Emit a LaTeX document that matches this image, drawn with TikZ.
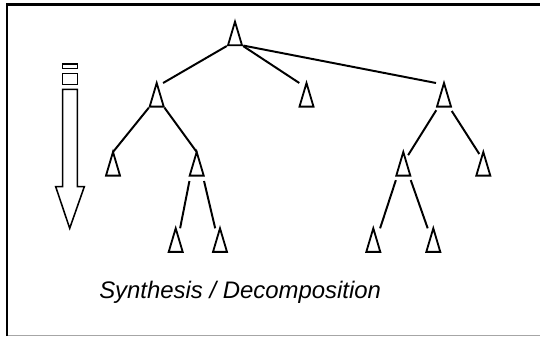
\documentclass[tikz,border=0pt]{standalone}
\usepackage{fontspec}
\setsansfont{Liberation Sans}
\usepackage{tikz}
\usetikzlibrary{shapes.geometric}

\begin{document}
\begin{tikzpicture}[x=0.025cm, y=-0.025cm,
    tri/.style={isosceles triangle, isosceles triangle stretches, shape border rotate=90,
      draw, line width=1.3pt, inner sep=0pt, outer sep=0pt,
      minimum width=0.35cm, minimum height=0.59cm, anchor=apex},
    branch/.style={line width=1.4pt, shorten <=1pt},
    block/.style={line width=1.1pt}]
  \useasboundingbox (0,0) rectangle (540,336);
  % frame
  \draw[line width=1.5pt] (7,336) -- (7,4.5) -- (540,4.5);
  \draw[black!35, line width=0.7pt] (7.5,335) -- (540,335);
  % downward arrow
  \draw[block] (62.3,64) rectangle (77.3,68.7);
  \draw[block] (62.3,73.7) rectangle (77.3,84.3);
  \draw[block, line join=miter] (62.7,89.3) -- (62.7,186.7) -- (55.7,186.7) -- (69.7,228.3)
    -- (84.3,186.7) -- (77.3,186.7) -- (77.3,89.3) -- cycle;
  % tree
  \node[tri] (root) at (235,21.7) {};
  \node[tri] (lft) at (156.7,83) {};
  \node[tri] (mid) at (306.5,83) {};
  \node[tri] (rgt) at (444,83) {};
  \node[tri] (lftA) at (113,152) {};
  \node[tri] (lftB) at (196.7,152) {};
  \node[tri] (rgtA) at (403.3,152) {};
  \node[tri] (rgtB) at (483.3,152) {};
  \node[tri] (lftBa) at (175.7,228.3) {};
  \node[tri] (lftBb) at (220,228.3) {};
  \node[tri] (rgtAa) at (373.3,228.3) {};
  \node[tri] (rgtAb) at (433.3,228.3) {};
  \draw[branch] (root.left corner) -- ([xshift=0.16cm]lft.apex);
  \draw[branch] (root.right corner) -- ([xshift=-0.18cm]mid.apex);
  \draw[branch] (root.right corner) -- ([xshift=-0.2cm]rgt.apex);
  \draw[branch] (lft.left corner) -- (lftA.apex);
  \draw[branch] (lft.right corner) -- (lftB.apex);
  \draw[branch] ([yshift=-0.06cm]rgt.left corner) -- ([xshift=0.12cm,yshift=-0.08cm]rgtA.apex);
  \draw[branch] ([yshift=-0.08cm]rgt.right corner) -- ([xshift=-0.1cm,yshift=-0.05cm]rgtB.apex);
  \draw[branch] ([yshift=-0.1cm]lftB.left corner) -- ([xshift=0.11cm]lftBa.apex);
  \draw[branch] ([yshift=-0.1cm]lftB.right corner) -- ([xshift=-0.12cm]lftBb.apex);
  \draw[branch] ([yshift=-0.08cm]rgtA.left corner) -- ([xshift=0.17cm]rgtAa.apex);
  \draw[branch] ([yshift=-0.08cm]rgtA.right corner) -- ([xshift=-0.14cm]rgtAb.apex);
  \node[font=\sffamily\itshape\fontsize{17}{20}\selectfont, anchor=base west, inner sep=0pt]
    (cap) at (99,298.3) {Synthesis / Decomposition};
\end{tikzpicture}
\end{document}
